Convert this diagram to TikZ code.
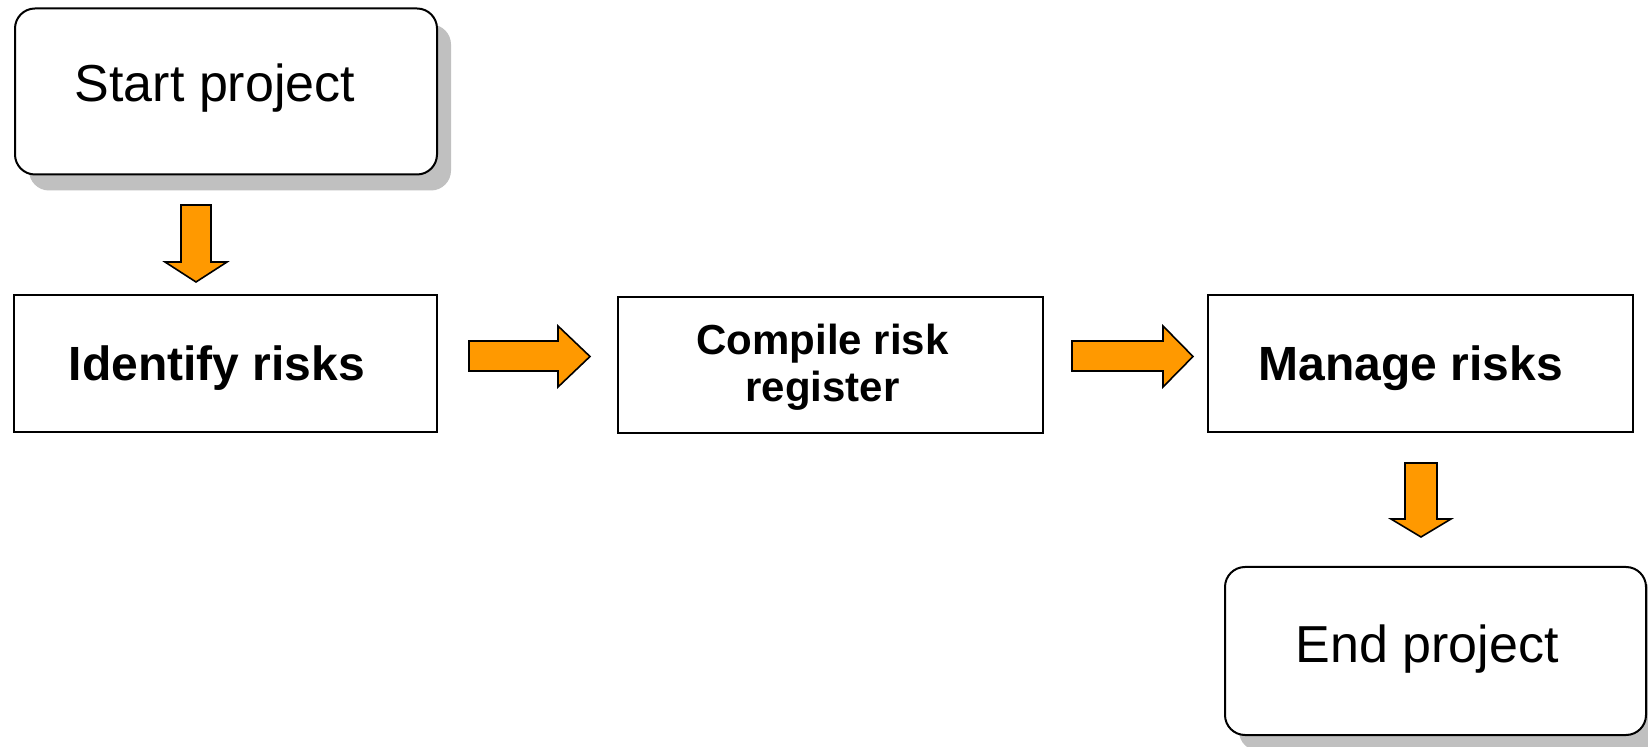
\documentclass[tikz,border=0pt]{standalone}
\usepackage{fontspec}
\setmainfont{Liberation Sans}
\usetikzlibrary{shadows}
\definecolor{arroworange}{RGB}{255,153,0}
\definecolor{shadowgray}{RGB}{192,192,192}
\tikzset{
  roundbox/.style={draw=black, line width=1pt, fill=white, rounded corners=10pt,
    inner sep=0pt, font=\fontsize{26}{30}\selectfont,
    drop shadow={shadow xshift=7pt, shadow yshift=-8pt, fill=shadowgray, opacity=1}},
  stepbox/.style={draw=black, line width=1pt, fill=white, inner sep=0pt,
    font=\bfseries\fontsize{24}{28}\selectfont},
  blockarrow/.style={draw=black, line width=0.8pt, fill=arroworange, line join=miter}
}
\begin{document}
\begin{tikzpicture}[x=0.5pt, y=-0.5pt]
\clip (0,0) rectangle (1648,747);
\fill[white] (0,0) rectangle (1648,747);

\node[roundbox, minimum width=211pt, minimum height=83pt, text height=10.5pt, text depth=0pt]
  (start) at (226,91.5) {Start project\hspace*{11pt}};
\node[stepbox, minimum width=211.5pt, minimum height=68.5pt, text height=17.5pt, text depth=0pt]
  (identify) at (225.5,363.5) {Identify risks\hspace*{8.5pt}};
\node[stepbox, minimum width=212.5pt, minimum height=68pt, text height=37pt, text depth=0pt,
  align=center, font=\bfseries\fontsize{21}{23.5}\selectfont]
  (compile) at (830.5,365) {Compile risk\hspace*{8pt}\\register\hspace*{8pt}};
\node[stepbox, minimum width=212.5pt, minimum height=68.5pt, text height=17.5pt, text depth=0pt]
  (manage) at (1420.5,363.5) {Manage risks\hspace*{9.5pt}};
\node[roundbox, minimum width=210.5pt, minimum height=84pt, text height=11pt, text depth=0pt]
  (end) at (1435.5,651) {End project\hspace*{8.5pt}};

% block arrows
\draw[blockarrow] (181,205) -- (211,205) -- (211,262) -- (227,262) -- (196,282)
  -- (165,262) -- (181,262) -- cycle;
\draw[blockarrow] (469,341) -- (558,341) -- (558,326) -- (590,356.5) -- (558,387)
  -- (558,371) -- (469,371) -- cycle;
\draw[blockarrow] (1072,341) -- (1163,341) -- (1163,326) -- (1193,356.5) -- (1163,387)
  -- (1163,371) -- (1072,371) -- cycle;
\draw[blockarrow] (1405,463) -- (1437,463) -- (1437,519) -- (1451,519) -- (1421,537)
  -- (1391,519) -- (1405,519) -- cycle;
\end{tikzpicture}
\end{document}
